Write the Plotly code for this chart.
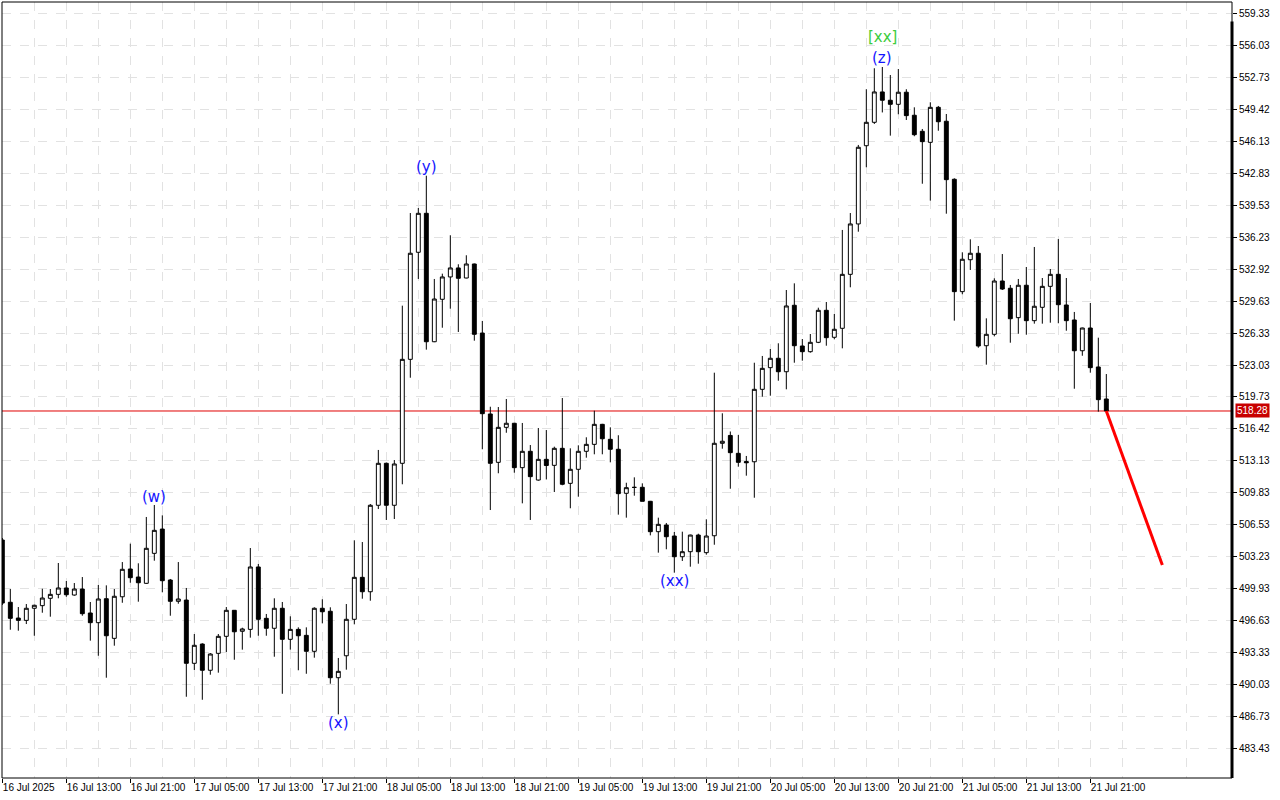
import plotly.graph_objects as go

# ---------------- data (hourly bars, 16 Jul 2025 05:00 onward) ----------------
opens = [504.94, 498.50, 496.87, 496.63, 497.88, 498.15, 498.91, 499.32, 499.98, 499.25,
         499.87, 497.39, 496.39, 498.87, 494.77, 499.07, 501.94, 501.11, 500.46, 503.56,
         506.07, 500.80, 498.60, 498.73, 492.19, 494.18, 491.47, 493.22, 494.98, 497.67,
         495.50, 495.70, 502.15, 496.84, 495.81, 497.88, 494.67, 495.70, 495.08, 493.43,
         497.88, 497.57, 490.70, 492.97, 496.74, 501.08, 499.59, 508.53, 512.87, 508.53,
         512.87, 523.62, 534.69, 538.72, 525.44, 529.83, 532.14, 533.07, 532.03, 533.48,
         526.34, 517.97, 512.97, 516.59, 517.01, 512.42, 514.11, 511.14, 513.28, 512.66,
         514.42, 510.80, 512.25, 514.11, 514.83, 516.90, 515.35, 514.32, 509.77, 510.38,
         510.39, 508.94, 505.80, 506.49, 505.35, 503.21, 503.73, 505.45, 503.63, 505.38,
         514.94, 515.75, 513.90, 513.05, 513.03, 520.52, 522.76, 523.73, 522.34, 529.21,
         525.00, 524.41, 525.38, 528.69, 525.90, 526.83, 532.41, 537.62, 545.71, 548.13,
         551.27, 550.41, 549.99, 551.24, 548.86, 547.20, 546.06, 549.68, 548.24, 542.24,
         530.62, 533.92, 534.59, 525.03, 526.21, 531.72, 530.97, 527.93, 531.28, 527.62,
         529.00, 531.17, 532.41, 529.24, 527.69, 524.51, 526.86, 522.83, 519.52]
highs = [505.15, 499.87, 498.01, 498.32, 498.25, 499.90, 499.87, 502.56, 500.70, 500.49,
         501.11, 498.53, 500.29, 500.25, 499.87, 502.66, 504.56, 502.53, 507.32, 508.56,
         507.49, 500.91, 502.66, 499.98, 495.22, 494.26, 493.25, 495.22, 498.01, 497.70,
         495.87, 504.11, 502.46, 497.29, 498.91, 498.53, 497.05, 495.91, 495.91, 497.98,
         498.81, 497.98, 492.74, 498.32, 504.91, 504.73, 508.66, 514.25, 512.95, 513.21,
         529.17, 538.75, 539.27, 542.61, 531.93, 532.48, 536.45, 533.45, 534.38, 533.52,
         527.59, 518.72, 518.69, 519.52, 517.05, 517.04, 514.76, 516.52, 516.31, 514.59,
         519.62, 514.42, 514.73, 515.56, 518.31, 516.95, 516.59, 515.77, 510.86, 511.42,
         510.80, 508.98, 507.25, 506.70, 505.77, 505.80, 505.49, 505.59, 507.08, 522.24,
         518.04, 516.16, 515.80, 513.63, 523.27, 523.97, 524.69, 525.28, 530.79, 531.48,
         525.72, 526.24, 528.96, 529.55, 528.31, 537.00, 538.75, 545.79, 551.55, 553.72,
         553.85, 553.02, 553.64, 551.55, 549.68, 547.44, 550.20, 549.82, 548.99, 542.34,
         534.69, 536.03, 535.34, 527.86, 532.00, 534.51, 531.31, 531.93, 533.17, 535.24,
         532.03, 532.96, 536.06, 532.03, 528.52, 526.90, 529.45, 525.86, 522.10]
lows = [498.22, 495.66, 495.56, 496.25, 495.04, 497.42, 497.01, 498.91, 499.07, 499.18,
        497.11, 494.53, 492.97, 490.70, 494.01, 498.45, 500.52, 498.56, 500.40, 502.80,
        499.53, 497.11, 498.35, 488.73, 491.50, 488.42, 491.01, 491.22, 493.36, 492.56,
        493.60, 494.84, 495.04, 495.04, 492.87, 489.04, 493.60, 491.47, 491.11, 492.77,
        496.32, 490.08, 486.91, 491.53, 496.22, 498.87, 498.66, 508.14, 507.01, 507.11,
        510.70, 521.72, 531.93, 524.62, 525.40, 526.89, 528.86, 526.45, 532.00, 525.55,
        514.32, 508.04, 511.84, 516.03, 511.90, 508.73, 507.01, 511.07, 511.20, 509.90,
        510.60, 508.22, 509.42, 513.45, 513.80, 513.80, 512.97, 507.56, 507.25, 509.52,
        508.94, 505.42, 503.63, 503.98, 501.56, 502.77, 502.18, 502.49, 503.42, 504.45,
        514.38, 510.24, 512.52, 511.59, 509.31, 519.76, 519.86, 521.41, 520.52, 523.27,
        523.48, 524.31, 525.30, 525.03, 525.69, 524.76, 531.07, 536.82, 543.48, 547.96,
        549.15, 546.75, 548.96, 548.37, 546.69, 541.78, 540.03, 547.26, 538.68, 527.62,
        530.35, 532.86, 524.82, 523.07, 526.00, 530.79, 525.34, 526.27, 526.17, 527.31,
        527.31, 527.41, 527.35, 526.58, 520.58, 523.99, 522.24, 518.21, 518.20]
closes = [498.42, 496.84, 496.63, 497.88, 498.19, 498.94, 499.32, 499.98, 499.28, 499.87,
          497.32, 496.39, 498.84, 495.04, 499.12, 501.91, 501.04, 500.52, 504.08, 505.94,
          500.73, 498.60, 498.84, 492.19, 494.05, 491.47, 493.15, 494.98, 497.67, 495.45,
          495.74, 502.15, 496.74, 495.81, 497.88, 494.67, 495.70, 495.04, 493.43, 497.88,
          497.52, 490.70, 491.36, 496.74, 501.08, 499.59, 508.53, 512.87, 508.53, 512.80,
          523.62, 534.59, 538.72, 525.44, 529.86, 532.14, 533.07, 532.00, 533.48, 526.21,
          518.00, 512.87, 516.59, 517.01, 512.42, 514.11, 511.49, 513.28, 512.64, 514.42,
          510.70, 512.25, 514.11, 514.83, 516.90, 515.41, 514.32, 509.73, 510.35, 510.38,
          508.94, 505.80, 506.56, 505.28, 503.21, 503.73, 505.45, 503.73, 505.35, 514.94,
          515.15, 513.97, 512.97, 512.93, 520.52, 522.69, 523.73, 522.34, 529.14, 525.03,
          524.41, 525.38, 528.69, 525.86, 526.73, 532.41, 537.62, 545.55, 548.13, 551.27,
          550.41, 549.99, 551.24, 548.82, 546.85, 546.13, 549.68, 548.19, 542.20, 530.62,
          533.97, 534.59, 525.00, 526.21, 531.72, 530.89, 527.82, 531.28, 527.62, 529.11,
          531.17, 532.41, 529.27, 527.62, 524.51, 526.86, 522.76, 519.45, 518.28]
bars = list(range(len(closes)))

x_tick_bars = [0, 8, 16, 24, 32, 40, 48, 56, 64, 72, 80, 88, 96, 104, 112, 120, 128, 136]
x_tick_labels = ["16 Jul 2025", "16 Jul 13:00", "16 Jul 21:00", "17 Jul 05:00", "17 Jul 13:00",
                 "17 Jul 21:00", "18 Jul 05:00", "18 Jul 13:00", "18 Jul 21:00", "19 Jul 05:00",
                 "19 Jul 13:00", "19 Jul 21:00", "20 Jul 05:00", "20 Jul 13:00", "20 Jul 21:00",
                 "21 Jul 05:00", "21 Jul 13:00", "21 Jul 21:00"]
x_minor_bars = [4 + 8 * i for i in range(19)]

y_tick_values = [559.33, 556.03, 552.73, 549.42, 546.13, 542.83, 539.53, 536.23, 532.92,
                 529.63, 526.33, 523.03, 519.73, 516.42, 513.13, 509.83, 506.53, 503.23,
                 499.93, 496.63, 493.33, 490.03, 486.73, 483.43]
y_tick_labels = ["%.2f" % v for v in y_tick_values]

last_price = 518.28
forecast_bars = [138, 145]
forecast_prices = [518.28, 502.35]

wave_labels = ["(w)", "(x)", "(y)", "(xx)", "(z)", "[xx]"]
wave_bars = [19, 42, 53, 84, 110, 110]
wave_prices = [509.39, 486.01, 543.51, 500.70, 554.78, 556.95]
wave_colors = ["#1414ff", "#1414ff", "#1414ff", "#1414ff", "#1414ff", "#3ccc3c"]

# ---------------- figure ----------------
fig = go.Figure()

fig.add_trace(go.Candlestick(
    x=bars, open=opens, high=highs, low=lows, close=closes,
    increasing=dict(line=dict(color="black", width=1), fillcolor="white"),
    decreasing=dict(line=dict(color="black", width=1), fillcolor="black"),
    whiskerwidth=0, showlegend=False, hoverinfo="skip",
))

fig.add_trace(go.Scatter(
    x=forecast_bars, y=forecast_prices, mode="lines",
    line=dict(color="#ff0000", width=3), showlegend=False, hoverinfo="skip",
))

# last price horizontal line
fig.add_shape(type="line", xref="paper", x0=0, x1=1, yref="y", y0=last_price, y1=last_price,
              line=dict(color="#e00000", width=1), layer="below")

# frame
fig.add_shape(type="rect", xref="paper", yref="paper", x0=0, x1=1, y0=0, y1=1,
              line=dict(color="black", width=1))
fig.add_shape(type="line", xref="paper", yref="paper", x0=1, x1=1, y0=0, y1=0.975,
              line=dict(color="black", width=3))

for txt, b, p, c in zip(wave_labels, wave_bars, wave_prices, wave_colors):
    fig.add_annotation(x=b, y=p, xref="x", yref="y", text=txt, showarrow=False,
                       font=dict(family="DejaVu Sans", size=15, color=c),
                       xanchor="center", yanchor="middle")

# last price label
fig.add_annotation(x=1, y=last_price, xref="paper", yref="y", text="%.2f" % last_price,
                   showarrow=False, xanchor="left", yanchor="middle", xshift=3,
                   font=dict(family="Liberation Sans", size=10, color="white"),
                   bgcolor="#c80000", borderpad=1)

grid = "#e2e2e2"
fig.update_layout(
    width=1280, height=800,
    margin=dict(l=2, r=48, t=2, b=22),
    paper_bgcolor="white", plot_bgcolor="white",
    font=dict(family="Liberation Sans", size=10, color="black"),
    xaxis=dict(
        range=[-0.04, 153.71], tickmode="array", tickvals=x_tick_bars, ticktext=x_tick_labels,
        ticks="outside", ticklen=4, tickcolor="black", ticklabelposition="outside right",
        showgrid=True, gridcolor=grid, griddash="dash", gridwidth=1,
        showline=False, zeroline=False, rangeslider=dict(visible=False),
        minor=dict(tickmode="array", tickvals=x_minor_bars, showgrid=True,
                   gridcolor=grid, griddash="dash", ticks=""),
    ),
    yaxis=dict(
        side="right", range=[480.33, 560.57], tickmode="array",
        tickvals=y_tick_values, ticktext=y_tick_labels,
        ticks="outside", ticklen=4, tickcolor="black",
        showgrid=True, gridcolor=grid, griddash="dash", gridwidth=1,
        showline=False, zeroline=False,
    ),
)

fig.write_html(
    "out.html",
    config={"displayModeBar": False},
    post_script="document.body.style.margin='0';document.body.style.overflow='hidden';",
)
